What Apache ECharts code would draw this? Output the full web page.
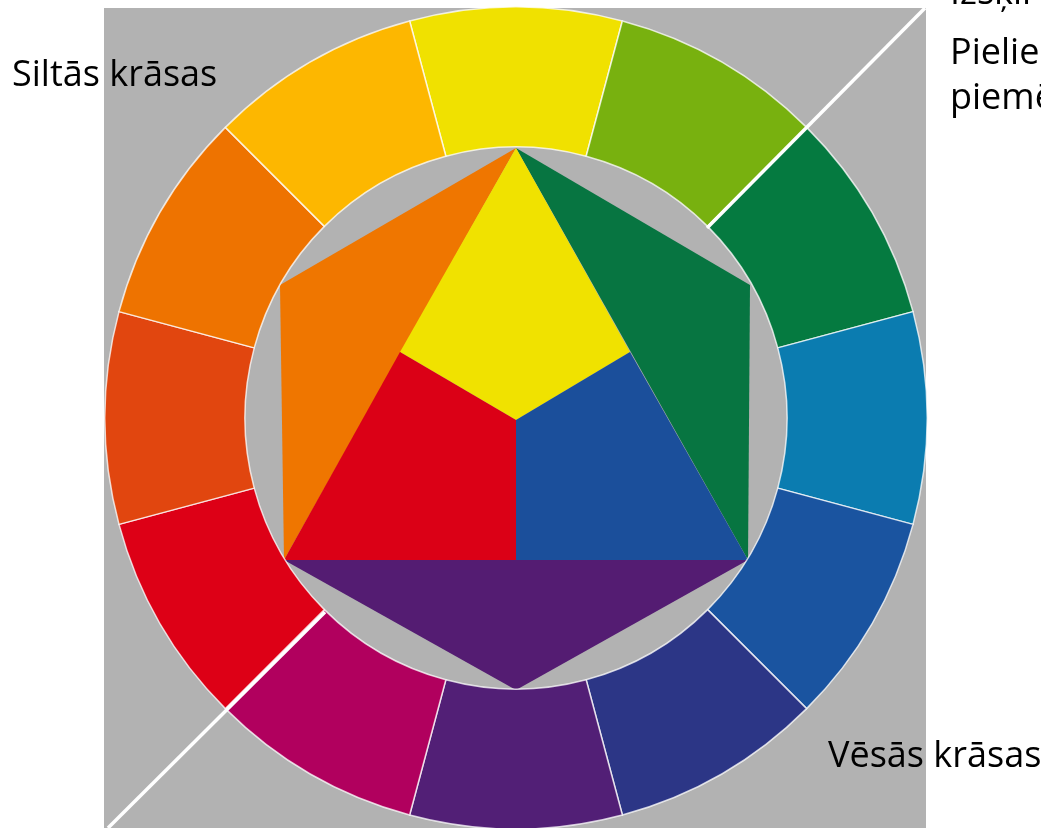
<!DOCTYPE html>
<html>
<head>
<meta charset="utf-8">
<script src="https://cdn.jsdelivr.net/npm/echarts@6/dist/echarts.min.js"></script>
<style>
  html, body { margin: 0; padding: 0; background: #fff; }
  #wheel { width: 1041px; height: 828px; }
</style>
</head>
<body>
<div id="wheel"></div>
<script>
// Itten krāsu aplis: 12 segmentu gredzens + trīsstūris un sešstūris iekšā

var ringNames = ['dzeltena', 'dzelteni zaļa', 'zaļa', 'zili zaļa', 'zila', 'zili violeta',
                 'violeta', 'sarkani violeta', 'sarkana', 'sarkani oranža', 'oranža', 'dzelteni oranža'];
var ringValues = [1, 1, 1, 1, 1, 1, 1, 1, 1, 1, 1, 1];
var ringColors = ['#f0e100', '#78b10f', '#057a40', '#0b7cb0', '#1a54a0', '#2c3686',
                  '#521f76', '#b1005e', '#dd0016', '#e1460f', '#ee7300', '#fdb700'];

// virsotnes (px no centra, y uz augšu), nolasītas no attēla
var pts = {
    A: [0, 270], B: [-232, -142], C: [232, -142],
    UL: [-236, 133], UR: [234, 133], BT: [0, -272],
    mAB: [-116, 66], mAC: [114, 66], mBC: [0, -142], O: [0, -2]
};
var polyNames = ['oranža', 'zaļa', 'violeta', 'dzeltena', 'sarkana', 'zila'];
var polyPoints = [
    ['A', 'UL', 'B'],
    ['A', 'UR', 'C'],
    ['B', 'C', 'BT'],
    ['A', 'mAC', 'O', 'mAB'],
    ['mAB', 'O', 'mBC', 'B'],
    ['mAC', 'C', 'mBC', 'O']
];
var polyColors = ['#ef7600', '#077541', '#541c72', '#f0e200', '#db0016', '#1b4f9b'];

// baltā diagonāle (divas daļas)
var lineTop = [[409, 410], [191, 190]];
var lineBottom = [[-191, -194], [-408, -410]];

var chart = echarts.init(document.getElementById('wheel'));

var font = '"Open Sans", "Noto Sans", sans-serif';

option = {
    backgroundColor: '#ffffff',
    animation: false,
    grid: {
        left: 104,
        top: 8,
        width: 822,
        height: 820,
        show: true,
        backgroundColor: '#b2b2b2',
        borderWidth: 0
    },
    xAxis: { type: 'value', min: -412, max: 410, show: false },
    yAxis: { type: 'value', min: -410, max: 410, show: false },
    graphic: [
        { type: 'text', left: 12, top: 58, z: 100,
          style: { text: 'Siltās krāsas', font: '36px ' + font, fill: '#000' } },
        { type: 'text', left: 828, top: 739, z: 100,
          style: { text: 'Vēsās krāsas', font: '36px ' + font, fill: '#000' } },
        { type: 'text', left: 950, top: -24, z: 100,
          style: { text: 'Izšķir siltās', font: '36px ' + font, fill: '#000' } },
        { type: 'text', left: 950, top: 31, z: 100,
          style: { text: 'Pieliekot\npiemēram', font: '36px ' + font,
                   lineHeight: 45, fill: '#000' } }
    ],
    series: [
        {
            type: 'pie',
            center: [516, 418],
            radius: [271, 411],
            startAngle: 105,
            clockwise: true,
            silent: true,
            label: { show: false },
            labelLine: { show: false },
            itemStyle: { borderColor: 'rgba(255,255,255,0.75)', borderWidth: 1.5 },
            data: ringNames.map(function (n, i) {
                return { name: n, value: ringValues[i], itemStyle: { color: ringColors[i] } };
            })
        },
        {
            type: 'custom',
            coordinateSystem: 'cartesian2d',
            silent: true,
            data: polyNames.map(function (n, i) { return [i]; }),
            renderItem: function (params, api) {
                var keys = polyPoints[params.dataIndex];
                var points = keys.map(function (k) { return api.coord(pts[k]); });
                return {
                    type: 'polygon',
                    shape: { points: points },
                    style: { fill: polyColors[params.dataIndex] }
                };
            }
        },
        {
            type: 'line',
            data: lineTop,
            symbol: 'none',
            silent: true,
            z: 10,
            lineStyle: { color: '#ffffff', width: 3.5 }
        },
        {
            type: 'line',
            data: lineBottom,
            symbol: 'none',
            silent: true,
            z: 10,
            lineStyle: { color: '#ffffff', width: 3.5 }
        }
    ]
};

chart.setOption(option);
</script>
</body>
</html>
